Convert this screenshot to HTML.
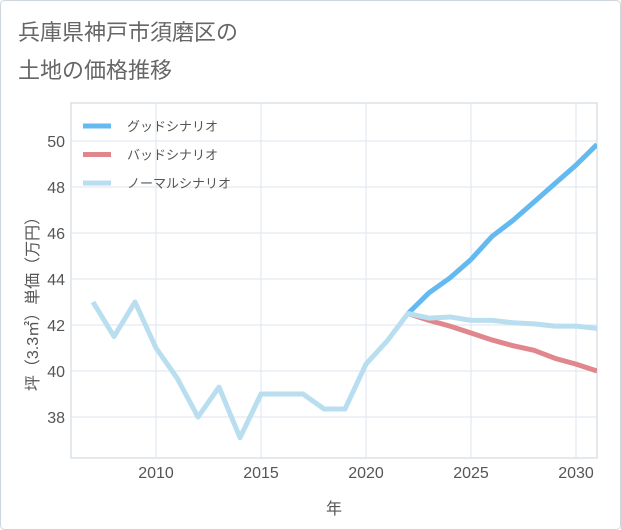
<!DOCTYPE html>
<html><head><meta charset="utf-8"><style>
body{margin:0;background:#fff;}
svg{display:block;font-family:"Liberation Sans","Noto Sans CJK JP",sans-serif;}
</style></head><body>
<svg id="c" width="621" height="530">
<rect x="0.5" y="0.5" width="620" height="529" rx="4" fill="#fff" stroke="#cfd6dd"/>
<text x="18" y="40" font-size="22" fill="#666">兵庫県神戸市須磨区の</text>
<text x="18" y="78" font-size="22" fill="#666">土地の価格推移</text>
<g id="plot"></g>
</svg>
<script>
const years=[2007,2008,2009,2010,2011,2012,2013,2014,2015,2016,2017,2018,2019,2020,2021,2022,2023,2024,2025,2026,2027,2028,2029,2030,2031];
const normal=[43.0,41.5,43.0,41.0,39.7,38.0,39.3,37.1,39.0,39.0,39.0,38.35,38.35,40.3,41.3,42.5,42.3,42.35,42.2,42.2,42.1,42.05,41.95,41.95,41.85];
const goodYears=[2022,2023,2024,2025,2026,2027,2028,2029,2030,2031];
const good=[42.5,43.4,44.05,44.85,45.85,46.55,47.35,48.15,48.95,49.85];
const bad=[42.5,42.2,41.95,41.65,41.35,41.1,40.9,40.55,40.3,40.0];
const xTicks=[2010,2015,2020,2025,2030];
const yTicks=[38,40,42,44,46,48,50];
const L=71,R=597,T=103,B=458;
const X=v=>156+(v-2010)*21;
const Y=v=>141+(50-v)*23;
const ns="http://www.w3.org/2000/svg";
const g=document.getElementById('plot');
function el(t,a,p){const e=document.createElementNS(ns,t);for(const k in a)e.setAttribute(k,a[k]);(p||g).appendChild(e);return e;}
const bg=el('rect',{x:L,y:T,width:R-L,height:B-T,fill:'#fff',stroke:'#c8d3dd'});


xTicks.forEach(t=>{
 const l=el('line',{x1:X(t),x2:X(t),y1:T,y2:B,stroke:'#dde5ec'});
 
 
 const tx=el('text',{x:X(t),y:B+20,'text-anchor':'middle','font-size':16,fill:'#555'});
 tx.textContent=t;
 
 
});
yTicks.forEach(t=>{
 const l=el('line',{x1:L,x2:R,y1:Y(t),y2:Y(t),stroke:'#dde5ec'});
 
 
 const tx=el('text',{x:L-6,y:Y(t)+6,'text-anchor':'end','font-size':16,fill:'#555'});
 tx.textContent=t;
 
 
});
const xt=el('text',{x:334,y:514,'text-anchor':'middle','font-size':16,fill:'#555'});
xt.textContent='年';


const yt=el('text',{transform:'translate(38,300) rotate(-90)','text-anchor':'middle','font-size':16,fill:'#555'});
yt.textContent='坪（3.3㎡）単価（万円）';


const clip=el('clipPath',{id:'cp'});el('rect',{x:L,y:T,width:R-L,height:B-T},clip);
function line(xs,ys,color,name){
 const p=el('polyline',{points:xs.map((x,i)=>X(x)+','+Y(ys[i])).join(' '),fill:'none',stroke:color,'stroke-width':5,'stroke-linejoin':'round','clip-path':'url(#cp)'});
 
 
}
line(goodYears,bad,'#e0868c','bad-scenario-line');
line(goodYears,good,'#64b9f0','good-scenario-line');
line(years,normal,'#b8def0','normal-scenario-line');
[['グッドシナリオ','#64b9f0','legend-good'],['バッドシナリオ','#e0868c','legend-bad'],['ノーマルシナリオ','#b8def0','legend-normal']].forEach((d,i)=>{
 const y=126+i*28.5;
 const l=el('line',{x1:83,x2:111,y1:y,y2:y,stroke:d[1],'stroke-width':5});
 
 
 const t=el('text',{x:127,y:y+5,'font-size':13,fill:'#555'});
 t.textContent=d[0];
 
 
});
</script>
</body></html>
